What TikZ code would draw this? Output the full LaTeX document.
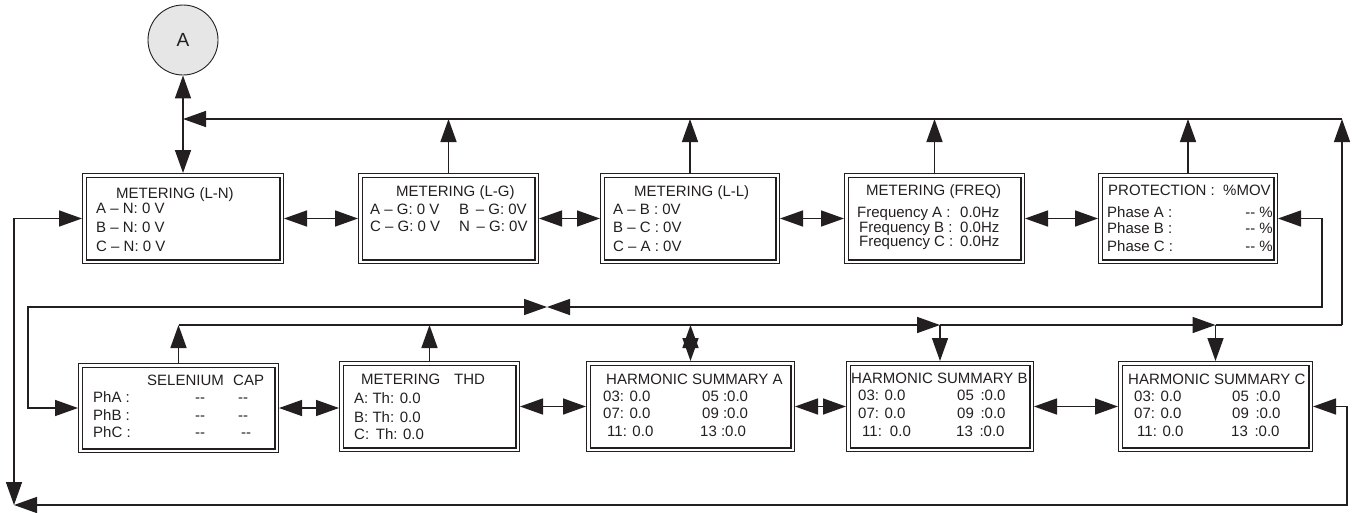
\documentclass[tikz,border=0pt]{standalone}
\usepackage{fontspec}
\setmainfont{Liberation Sans}
\usetikzlibrary{arrows.meta}
\definecolor{ink}{HTML}{231F20}
\definecolor{disc}{HTML}{E6E6E6}
\tikzset{
  panel/.style 2 args={draw=ink, line width=1.3pt, double=white, double distance=2.2pt,
    inner sep=0pt, outer sep=2.4pt, minimum width=#1, minimum height=#2},
  txt/.style={anchor=base west, inner sep=0pt, text=ink},
  rtxt/.style={anchor=base east, inner sep=0pt, text=ink},
  link/.style={draw=ink, line width=1.5pt},
  tip/.style={link, -{Triangle[length=23pt,width=16pt]}},
  both/.style={link, {Triangle[length=23pt,width=16pt]}-{Triangle[length=23pt,width=16pt]}},
}
\begin{document}
\begin{tikzpicture}[x=1pt,y=-1pt,font=\fontsize{15}{18}\selectfont]
\useasboundingbox (0,0) rectangle (1352,512);

% start marker
\node[circle, draw=ink, fill=disc, line width=0.9pt, minimum size=70pt, inner sep=0pt,
      font=\fontsize{19}{22}\selectfont, text=ink] (A) at (183,40) {A};

% upper row of panels
\node[panel={197.2pt}{86.2pt}] (b1) at (183,218.5) {};
\node[panel={176.2pt}{86.2pt}] (b2) at (448.5,218.5) {};
\node[panel={175.2pt}{86.2pt}] (b3) at (690,218.5) {};
\node[panel={176.2pt}{86.2pt}] (b4) at (934.5,218.5) {};
\node[panel={175.2pt}{86.2pt}] (b5) at (1188,218.5) {};

% lower row of panels
\node[panel={196.2pt}{85.2pt}] (sel) at (178.5,408) {};
\node[panel={176.2pt}{86.2pt}] (thd) at (429.5,406.5) {};
\node[panel={204.2pt}{86.2pt}] (ha) at (690.5,406.5) {};
\node[panel={183.2pt}{86.2pt}] (hb) at (940,406.5) {};
\node[panel={190.2pt}{86.2pt}] (hc) at (1215.5,406.5) {};

% METERING (L-N)
\node[txt] (b1t) at (116,198) {METERING (L-N)};
\node[txt] (b1a) at (96,213) {A – N: 0 V};
\node[txt] (b1b) at (96,232) {B – N: 0 V};
\node[txt] (b1c) at (96,251) {C – N: 0 V};

% METERING (L-G)
\node[txt] (b2t) at (396,196) {METERING (L-G)};
\node[txt] (b2a) at (370,214) {A – G: 0 V};
\node[txt] (b2b) at (459,214) {B \,– G: 0V};
\node[txt] (b2c) at (370,231) {C – G: 0 V};
\node[txt] (b2d) at (459,231) {N \,– G: 0V};

% METERING (L-L)
\node[txt] (b3t) at (634,196) {METERING (L-L)};
\node[txt] (b3a) at (613,214) {A – B : 0V};
\node[txt] (b3b) at (613,232) {B – C : 0V};
\node[txt] (b3c) at (613,251) {C – A : 0V};

% METERING (FREQ)
\node[txt] (b4t) at (866,195) {METERING (FREQ)};
\node[txt] (b4a) at (857,217) {Frequency A :};
\node[txt] (b4b) at (859,232) {Frequency B :};
\node[txt] (b4c) at (859,246) {Frequency C :};
\node[txt] (b4av) at (960,217) {0.0Hz};
\node[txt] (b4bv) at (960,232) {0.0Hz};
\node[txt] (b4cv) at (960,246) {0.0Hz};

% PROTECTION : %MOV
\node[txt] (b5t) at (1108,195) {PROTECTION :};
\node[txt] (b5u) at (1223,195) {\%MOV};
\node[txt] (b5a) at (1107,217) {Phase A :};
\node[txt] (b5b) at (1107,233) {Phase B :};
\node[txt] (b5c) at (1107,251) {Phase C :};
\node[rtxt] (b5av) at (1273,217) {-{}- \%};
\node[rtxt] (b5bv) at (1273,233) {-{}- \%};
\node[rtxt] (b5cv) at (1273,251) {-{}- \%};

% SELENIUM CAP
\node[txt] (selt) at (147,385) {SELENIUM};
\node[txt] (selu) at (233,385) {CAP};
\node[txt] (sela) at (93,402) {PhA :};
\node[txt] (selb) at (93,420) {PhB :};
\node[txt] (selc) at (93,437) {PhC :};
\node[txt] (sela1) at (195,402) {-{}-};
\node[txt] (sela2) at (238,402) {-{}-};
\node[txt] (selb1) at (195,420) {-{}-};
\node[txt] (selb2) at (238,420) {-{}-};
\node[txt] (selc1) at (195,437) {-{}-};
\node[txt] (selc2) at (241,437) {-{}-};

% METERING THD
\node[txt] (thdt) at (361,384) {METERING};
\node[txt] (thdu) at (454,384) {THD};
\node[txt] (thda) at (354,403) {A: Th: 0.0};
\node[txt] (thdb) at (354,422) {B: Th: 0.0};
\node[txt] (thdc) at (354,439) {C: \,Th: 0.0};

% HARMONIC SUMMARY A
\node[txt] (hat) at (606,384) {HARMONIC SUMMARY A};
\node[txt] (ha1) at (603,401) {03: 0.0};
\node[txt] (ha2) at (702,401) {05 :0.0};
\node[txt] (ha3) at (603,418) {07: 0.0};
\node[txt] (ha4) at (702,418) {09 :0.0};
\node[txt] (ha5) at (607,436) {11: 0.0};
\node[txt] (ha6) at (700,436) {13 :0.0};

% HARMONIC SUMMARY B
\node[txt] (hbt) at (851,383) {HARMONIC SUMMARY B};
\node[txt] (hb1) at (858,400) {03: 0.0};
\node[txt] (hb2) at (957,400) {05 \,:0.0};
\node[txt] (hb3) at (858,418) {07: 0.0};
\node[txt] (hb4) at (957,418) {09 \,:0.0};
\node[txt] (hb5) at (862,436) {11: \,0.0};
\node[txt] (hb6) at (956,436) {13 \,:0.0};

% HARMONIC SUMMARY C
\node[txt] (hct) at (1128,384) {HARMONIC SUMMARY C};
\node[txt] (hc1) at (1134,401) {03: 0.0};
\node[txt] (hc2) at (1232,401) {05 \,:0.0};
\node[txt] (hc3) at (1134,418) {07: 0.0};
\node[txt] (hc4) at (1232,418) {09 \,:0.0};
\node[txt] (hc5) at (1137,436) {11: 0.0};
\node[txt] (hc6) at (1231,436) {13 \,:0.0};

% routing points
\coordinate (topR) at (1342,119);
\coordinate (lowR) at (1342,325);
\coordinate (lowL) at (179,325);
\coordinate (meet) at (547,307);
\coordinate (bendL) at (28,307);
\coordinate (bendR) at (1322,307);
\coordinate (cornerL) at (14,505);
\coordinate (cornerR) at (1347,505);

% marker link and upper return bus
\draw[both] (A.south) -- (b1.north);
\draw[tip] (lowR) -- (topR);
\draw[tip] (topR) -- (b1.north |- topR);
\draw[tip] (b2.north) -- (b2.north |- topR);
\draw[tip] (b3.north) -- (b3.north |- topR);
\draw[tip] (b4.north) -- (b4.north |- topR);
\draw[tip] (b5.north) -- (b5.north |- topR);

% upper row neighbours
\draw[both] (b1.east) -- (b2.west);
\draw[both] (b2.east) -- (b3.west);
\draw[both] (b3.east) -- (b4.west);
\draw[both] (b4.east) -- (b5.west);

% crossover between rows
\draw[both] (meet) -- (bendL) |- (sel.west);
\draw[both] (meet) -- (bendR) |- (b5.east);

% lower bus
\draw[tip] (sel.north) -- (sel.north |- lowL);
\draw[tip] (sel.north |- lowL) -- (hb.north |- lowL);
\draw[tip] (hb.north |- lowL) -- (hc.north |- lowL);
\draw[link] (hc.north |- lowL) -- (lowR);
\draw[tip] (thd.north) -- (thd.north |- lowL);
\draw[both] (ha.north |- lowL) -- (ha.north);
\draw[tip] (hb.north |- lowL) -- (hb.north);
\draw[tip] (hc.north |- lowL) -- (hc.north);

% lower row neighbours
\draw[both] (sel.east) -- (sel.east -| thd.west);
\draw[both] (thd.east) -- (ha.west);
\draw[both] (ha.east) -- (hb.west);
\draw[both] (hb.east) -- (hc.west);

% outer loop
\draw[both] (b1.west) -| (cornerL);
\draw[both] (hc.east) -| (cornerR) -- (cornerL);
\end{tikzpicture}
\end{document}
